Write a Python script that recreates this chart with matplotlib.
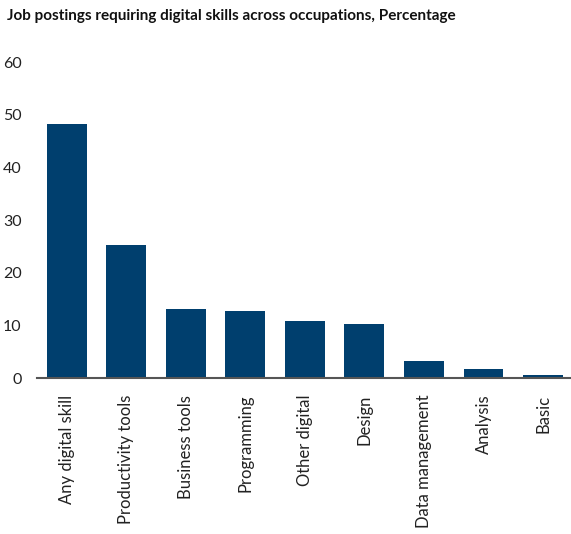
import matplotlib
matplotlib.use("Agg")
import matplotlib.pyplot as plt

categories = ["Any digital skill", "Productivity tools", "Business tools", "Programming",
              "Other digital", "Design", "Data management", "Analysis", "Basic"]
values = [48.2, 25.2, 13.1, 12.7, 10.8, 10.2, 3.2, 1.7, 0.55]
yticks = [0, 10, 20, 30, 40, 50, 60]

plt.rcParams['font.family'] = ['Lato', 'DejaVu Sans']

W, H = 571, 534
fig = plt.figure(figsize=(W/100, H/100), dpi=100)
ax = fig.add_axes([37/W, 1-378/H, (571-37)/W, (378-62)/H])

ax.bar(range(len(categories)), values, width=0.67, color="#003f6e", zorder=2)
ax.set_xlim(-0.5, 8.47)
ax.set_ylim(0, 60)
ax.set_yticks(yticks)
ax.set_yticklabels([str(t) for t in yticks], fontsize=11.5, color="#222222")
ax.set_xticks(range(len(categories)))
ax.set_xticklabels(categories, rotation=90, fontsize=12, color="#222222")
ax.tick_params(axis='both', length=0)
ax.tick_params(axis='y', pad=11)
ax.tick_params(axis='x', pad=12)
for s in ["top", "right", "left"]:
    ax.spines[s].set_visible(False)
ax.spines["bottom"].set_color("#555555")
ax.spines["bottom"].set_linewidth(1.5)

fig.text(7/W, 1-16/H, "Job postings requiring digital skills across occupations, Percentage",
         fontsize=11, fontweight="bold", color="#111111", ha="left", va="center")

fig.savefig("out.png", dpi=100)
